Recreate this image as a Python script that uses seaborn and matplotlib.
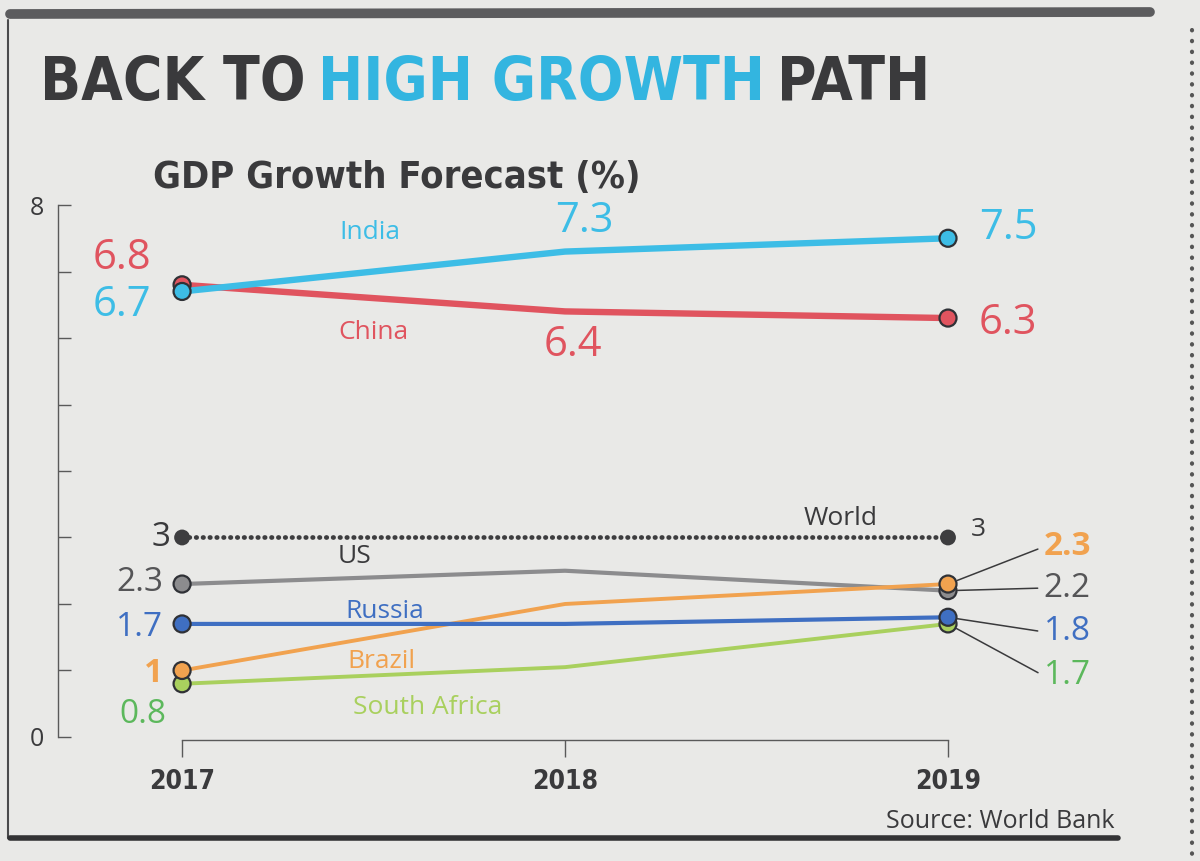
"""
GDP growth forecast chart (World Bank) - newspaper style recreation.
"""

import matplotlib
matplotlib.use('Agg')
import matplotlib.pyplot as plt
from matplotlib import font_manager
from matplotlib.font_manager import FontProperties
from matplotlib.lines import Line2D
import seaborn as sns
import pandas as pd

# --- data -------------------------------------------------------------
years = [2017, 2018, 2019]
india = [6.7, 7.3, 7.5]
china = [6.8, 6.4, 6.3]
world = [3.0, 3.0, 3.0]
us = [2.3, 2.5, 2.2]
russia = [1.7, 1.7, 1.8]
brazil = [1.0, 2.0, 2.3]
south_africa = [0.8, 1.05, 1.7]

countries = ['China', 'India', 'World', 'US', 'South Africa', 'Brazil', 'Russia']
series = {
    'India': india, 'China': china, 'World': world, 'US': us,
    'Russia': russia, 'Brazil': brazil, 'South Africa': south_africa,
}
colors = {
    'India': '#3dbde6', 'China': '#e0545f', 'World': '#3d3d3f',
    'US': '#8c8c8e', 'Russia': '#3f6fc2', 'Brazil': '#f1a24f',
    'South Africa': '#a9d05e',
}
widths = {'India': 4.6, 'China': 4.6, 'World': 3.4, 'US': 3.0,
          'Russia': 3.0, 'Brazil': 2.8, 'South Africa': 2.8}

rows = []
for name in countries:
    for yr, v in zip(years, series[name]):
        rows.append({'country': name, 'year': yr, 'value': v})
df = pd.DataFrame(rows)

# --- fonts ------------------------------------------------------------
avail = {f.name for f in font_manager.fontManager.ttflist}
BODY = 'Open Sans' if 'Open Sans' in avail else 'DejaVu Sans'
FAM = [BODY, 'DejaVu Sans']


def find_condensed_bold():
    """Look for an installed bold condensed/narrow face (file path) if any."""
    best, best_score = None, None
    for f in font_manager.fontManager.ttflist:
        st = str(f.stretch).lower()
        label = (f.name + ' ' + f.fname).lower()
        cond = ('condensed' in st or 'narrow' in label or 'condensed' in label)
        if not cond or 'extra' in st or 'ultra' in label or 'extra' in label:
            continue
        if f.style != 'normal' or 'mono' in label or 'serif' in f.name.lower() and 'sans' not in f.name.lower():
            continue
        w = f.weight if isinstance(f.weight, int) else 400
        if w < 700:
            continue
        score = abs(w - 800)
        if best_score is None or score < best_score:
            best, best_score = f.fname, score
    return best


cond_path = find_condensed_bold()


def heavy(size):
    if cond_path:
        return FontProperties(fname=cond_path, size=size)
    return FontProperties(family=FAM, weight='heavy', size=size)


def boldc(size):
    if cond_path:
        return FontProperties(fname=cond_path, size=size)
    return FontProperties(family=FAM, weight='bold', size=size)


PAPER = '#e9e9e7'
DARK = '#3a3a3c'

sns.set_theme(style='white')
plt.rcParams['font.family'] = FAM

fig = plt.figure(figsize=(12, 8.61), dpi=100, facecolor=PAPER)
ax = fig.add_axes([58 / 1200, 0.1402, 1052 / 1200, 0.6294])
ax.set_facecolor('none')

# lines
for name in countries:
    sub = df[df['country'] == name]
    ls = (0, (0.1, 1.35)) if name == 'World' else '-'
    sns.lineplot(data=sub, x='year', y='value', ax=ax, color=colors[name],
                 lw=widths[name], linestyle=ls, legend=False,
                 dash_capstyle='round', solid_capstyle='round',
                 zorder=3 if name != 'India' else 4)

# end markers (2017 and 2019 only)
ends = df[df['year'].isin([2017, 2019])]
sns.scatterplot(data=ends[ends['country'] != 'World'], x='year', y='value',
                hue='country', palette=colors, s=150, edgecolor='#2f3136',
                linewidth=1.6, legend=False, ax=ax, zorder=6)
sns.scatterplot(data=ends[ends['country'] == 'World'], x='year', y='value',
                color=colors['World'], s=130, edgecolor='none',
                legend=False, ax=ax, zorder=6)

ax.set_xlim(2016.676, 2019.423)
ax.set_ylim(-0.05, 8.1)

# axes styling
for side in ['top', 'right']:
    ax.spines[side].set_visible(False)
ax.spines['left'].set_bounds(0, 8)
ax.spines['bottom'].set_bounds(2017, 2019)
for side in ['left', 'bottom']:
    ax.spines[side].set_color('#5a5a5a')
    ax.spines[side].set_linewidth(1.0)

ax.set_yticks(range(0, 9))
ax.set_yticklabels(['0', '', '', '', '', '', '', '', '8'])
ax.tick_params(axis='y', left=True, direction='in', length=9, width=1,
               color='#5a5a5a', labelsize=18, labelcolor=DARK, pad=10)
ax.set_xticks(years)
ax.set_xticklabels([str(y) for y in years])
for lab in ax.get_xticklabels():
    lab.set_fontproperties(boldc(19))
ax.tick_params(axis='x', bottom=True, direction='out', length=12, width=1,
               color='#5a5a5a', labelcolor=DARK, pad=9)
ax.set_xlabel('')
ax.set_ylabel('')

# --- series names ------------------------------------------------------
name_pos = {
    'India': (2017.49, 7.59), 'China': (2017.50, 6.08),
    'World': (2018.72, 3.28), 'US': (2017.45, 2.72),
    'Russia': (2017.53, 1.89), 'Brazil': (2017.52, 1.13),
    'South Africa': (2017.64, 0.44),
}
for name, (x, y) in name_pos.items():
    c = DARK if name in ('World', 'US') else colors[name]
    ax.text(x, y, name, color=c, fontsize=19, ha='center', va='center')

# --- value labels -------------------------------------------------------
big = dict(fontsize=30, va='center')
ax.text(2016.92, 7.2, f'{china[0]:g}', color=colors['China'], ha='right', **big)
ax.text(2016.92, 6.5, f'{india[0]:g}', color=colors['India'], ha='right', **big)
ax.text(2018.05, 7.76, f'{india[1]:g}', color=colors['India'], ha='center', **big)
ax.text(2018.02, 5.9, f'{china[1]:g}', color=colors['China'], ha='center', **big)
ax.text(2019.08, 7.65, f'{india[2]:g}', color=colors['India'], ha='left', **big)
ax.text(2019.08, 6.22, f'{china[2]:g}', color=colors['China'], ha='left', **big)

mid = dict(fontsize=24, va='center', ha='right')
ax.text(2016.97, 3.0, f'{world[0]:g}', color=DARK, **mid)
ax.text(2016.95, 2.32, f'{us[0]:g}', color='#555557', **mid)
ax.text(2016.95, 1.64, f'{russia[0]:g}', color=colors['Russia'], **mid)
ax.text(2016.95, 0.95, f'{brazil[0]:g}', color=colors['Brazil'],
        fontweight='bold', **mid)
ax.text(2016.96, 0.34, f'{south_africa[0]:g}', color='#5cb85c', **mid)

ax.text(2019.06, 3.12, f'{world[2]:g}', color=DARK, fontsize=19, va='center',
        ha='left')

right_labels = [
    (brazil[2], 2.86, colors['Brazil'], 'bold'),
    (us[2], 2.24, '#555557', 'normal'),
    (russia[2], 1.58, colors['Russia'], 'normal'),
    (south_africa[2], 0.92, '#5cb85c', 'normal'),
]
for val, ty, c, w in right_labels:
    ax.annotate(f'{val:g}', xy=(2019, val), xytext=(2019.25, ty),
                color=c, fontsize=24, fontweight=w, va='center', ha='left',
                arrowprops=dict(arrowstyle='-', color='#3a3a3c', lw=1.1,
                                shrinkA=2, shrinkB=7, relpos=(0, 0.5)),
                zorder=2)

# --- title pieces (sized to span the same width as the print) ------------
renderer = fig.canvas.get_renderer()
pieces = [('BACK TO', DARK), ('HIGH GROWTH', '#33b5e0'), ('PATH', DARK)]


def draw_title(size):
    x0 = 40 / 1200
    made = []
    for text, col in pieces:
        t = fig.text(x0, 0.884, text, color=col, fontproperties=heavy(size),
                     ha='left', va='baseline')
        bb = t.get_window_extent(renderer=renderer)
        x0 = bb.x1 / fig.bbox.width + 12 / 1200
        made.append(t)
    return made, bb.x1


made, right = draw_title(54)
target = 925
if abs(right - target) > 8:
    size = 54 * (target - 40) / (right - 40)
    for t in made:
        t.remove()
    draw_title(min(size, 60))

sub = fig.text(153 / 1200, 0.782, 'GDP Growth Forecast (%)', color=DARK,
               fontproperties=boldc(30), ha='left', va='baseline')
sb = sub.get_window_extent(renderer=renderer)
if sb.x1 > 650:
    sub.set_fontproperties(boldc(30 * (640 - 153) / (sb.x1 - 153)))

fig.text(1115 / 1200, 0.038, 'Source: World Bank', color=DARK, fontsize=18,
         ha='right', va='baseline')

# --- page frame ---------------------------------------------------------
fig.add_artist(Line2D([10 / 1200, 1150 / 1200], [1 - 14 / 861, 1 - 12 / 861],
                      color='#5c5c5e', lw=7, transform=fig.transFigure))
fig.add_artist(Line2D([8 / 1200, 8 / 1200], [1 - 20 / 861, 1 - 838 / 861],
                      color='#4a4a4c', lw=1.5, transform=fig.transFigure))
fig.add_artist(Line2D([10 / 1200, 1118 / 1200], [1 - 838 / 861, 1 - 838 / 861],
                      color='#333335', lw=4, transform=fig.transFigure))
fig.add_artist(Line2D([1192 / 1200, 1192 / 1200], [1 - 30 / 861, 0],
                      color='#555', lw=3, linestyle=(0, (0.1, 2.5)),
                      dash_capstyle='round', transform=fig.transFigure))

fig.savefig('out.png', dpi=100, facecolor=PAPER)
